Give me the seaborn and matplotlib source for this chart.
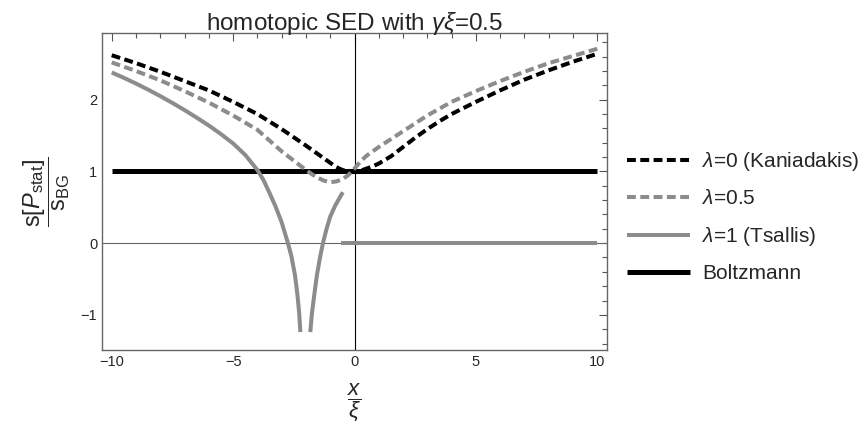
import numpy as np
import pandas as pd
import matplotlib
matplotlib.use("Agg")
import matplotlib.pyplot as plt
import seaborn as sns
from matplotlib.ticker import MultipleLocator

# ---- data ----
x_k0 = [-10, -9, -8, -7, -6, -5, -4, -3, -2, -1.5, -1, -0.75, -0.5, -0.25, 0, 0.25, 0.5, 0.75, 1,
        1.5, 2, 2.5, 3, 3.5, 4, 5, 6, 7, 8, 9, 10]
y_k0 = [2.62, 2.51, 2.39, 2.26, 2.13, 1.97, 1.80, 1.59, 1.36, 1.24, 1.12, 1.06, 1.02, 1.00, 1.00, 1.01,
        1.04, 1.07, 1.11, 1.21, 1.34, 1.47, 1.59, 1.70, 1.80, 1.97, 2.13, 2.28, 2.41, 2.53, 2.64]

x_l05 = [-10, -9, -8, -7, -6, -5, -4, -3, -2, -1.75, -1.5, -1.25, -1, -0.75, -0.5, -0.25, 0, 0.25,
         0.5, 0.75, 1, 1.5, 2, 2.5, 3, 4, 5, 6, 7, 8, 9, 10]
y_l05 = [2.52, 2.40, 2.27, 2.12, 1.96, 1.78, 1.58, 1.28, 1.02, 0.96, 0.91, 0.87, 0.85, 0.86, 0.89, 0.95,
         1.04, 1.14, 1.22, 1.28, 1.34, 1.45, 1.56, 1.67, 1.78, 1.97, 2.12, 2.26, 2.39, 2.51, 2.61, 2.71]

x_ts_left = [-10, -9.5, -9, -8.5, -8, -7.5, -7, -6.5, -6, -5.5, -5, -4.5, -4, -3.75, -3.5, -3.25,
             -3, -2.75, -2.6, -2.45, -2.35, -2.28, -2.23]
y_ts_left = [2.38, 2.305, 2.225, 2.14, 2.05, 1.955, 1.855, 1.75, 1.64, 1.52, 1.39, 1.23, 1.02, 0.88,
             0.70, 0.51, 0.29, 0.01, -0.18, -0.45, -0.72, -0.97, -1.24]
x_ts_right = [-1.82, -1.76, -1.68, -1.55, -1.42, -1.3, -1.15, -1.0, -0.8, -0.6, -0.48]
y_ts_right = [-1.24, -1.00, -0.78, -0.45, -0.20, 0.00, 0.20, 0.37, 0.52, 0.64, 0.71]
x_ts_flat = [-0.57, 10]
y_ts_flat = [0.0, 0.0]

x_bg = [-10, 10]
y_bg = [1.0, 1.0]

labels = [r"$\lambda$=0 (Kaniadakis)", r"$\lambda$=0.5", r"$\lambda$=1 (Tsallis)", "Boltzmann"]
x_ticks = [-10, -5, 0, 5, 10]
y_ticks = [-1, 0, 1, 2]

# ---- style ----
sns.set_theme(style="white")
plt.rcParams["font.family"] = ["Liberation Sans", "DejaVu Sans"]
plt.rcParams["mathtext.fontset"] = "custom"
plt.rcParams["mathtext.rm"] = "Liberation Sans"
plt.rcParams["mathtext.it"] = "Liberation Sans:italic"
plt.rcParams["mathtext.bf"] = "Liberation Sans:bold"

GRAY = "#8c8c8c"
fig = plt.figure(figsize=(8.66, 4.32), dpi=100)
ax = fig.add_axes([102/866, 1-350/432, (607-102)/866, (350-33)/432])

ax.axhline(0, color="#666666", lw=0.8, zorder=1)
ax.axvline(0, color="black", lw=0.8, zorder=1)

dash = (2.2, 1.1)
sns.lineplot(x=x_k0, y=y_k0, ax=ax, color="black", lw=2.9, label=labels[0], zorder=3)
ax.lines[-1].set_dashes(dash)
sns.lineplot(x=x_l05, y=y_l05, ax=ax, color=GRAY, lw=2.9, label=labels[1], zorder=3)
ax.lines[-1].set_dashes(dash)
sns.lineplot(x=x_ts_left, y=y_ts_left, ax=ax, color=GRAY, lw=2.9, label=labels[2], zorder=3)
sns.lineplot(x=x_ts_right, y=y_ts_right, ax=ax, color=GRAY, lw=2.9, zorder=3)
sns.lineplot(x=x_ts_flat, y=y_ts_flat, ax=ax, color=GRAY, lw=2.9, zorder=3)
sns.lineplot(x=x_bg, y=y_bg, ax=ax, color="black", lw=3.6, label=labels[3], zorder=2)
for ln in ax.lines:
    ln.set_solid_capstyle("butt")
    ln.set_dash_capstyle("butt")
    ln.set_solid_joinstyle("round")

ax.set_xlim(-10.4, 10.4)
ax.set_ylim(-1.49, 2.93)
ax.set_xticks(x_ticks)
ax.set_yticks(y_ticks)
ax.set_xticklabels(["\u221210", "\u22125", "0", "5", "10"])
ax.set_yticklabels(["\u22121", "0", "1", "2"])
ax.xaxis.set_minor_locator(MultipleLocator(1))
ax.yaxis.set_minor_locator(MultipleLocator(0.2))
ax.tick_params(which="both", direction="in", top=True, right=True, color="#555555",
               labelsize=10.5, width=0.8)
ax.tick_params(which="major", length=6)
ax.tick_params(which="minor", length=3.5)
for s in ax.spines.values():
    s.set_color("#666666")
    s.set_linewidth(1.0)

ax.set_title(r"homotopic SED with $\gamma\xi$=0.5", fontsize=17.5, pad=2)
ax.set_xlabel(r"$\dfrac{x}{\xi}$", fontsize=16)
ax.xaxis.set_label_coords(0.5, (350-382)/317)
ax.set_ylabel(r"$\dfrac{\mathregular{s}[P_{\mathregular{stat}}]}{\mathregular{s}_{\mathregular{BG}}}$", fontsize=17)
ax.yaxis.set_label_coords((72-102)/505, 0.5)

h, l = ax.get_legend_handles_labels()
ax.legend(h, l, loc="upper left", bbox_to_anchor=(627/866, 1-150/432), bbox_transform=fig.transFigure,
          frameon=False, fontsize=15, handlelength=3.03, handletextpad=0.58, labelspacing=0.79,
          borderpad=0, borderaxespad=0)

fig.savefig("out.png", dpi=100)
